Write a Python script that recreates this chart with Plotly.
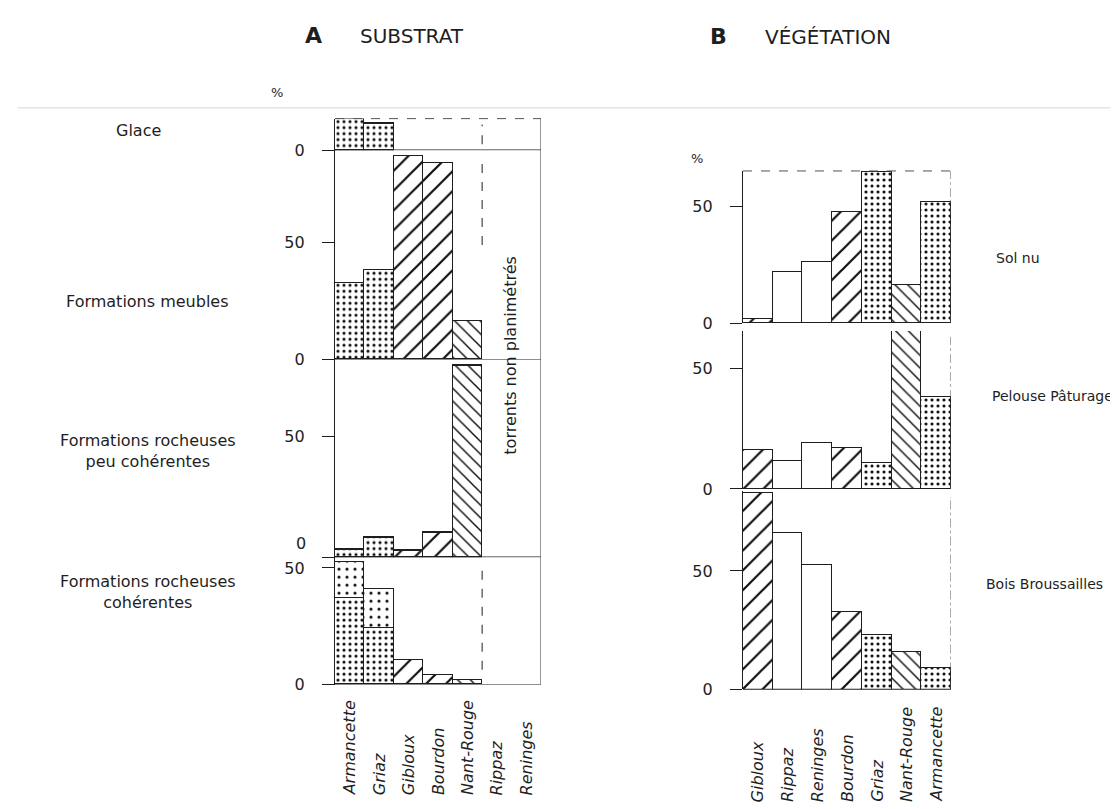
import plotly.graph_objects as go

W, H = 1118, 809

# ---- data ----
subst_sites = ["Armancette", "Griaz", "Gibloux", "Bourdon", "Nant-Rouge", "Rippaz", "Reninges"]
subst_patterns = [".", ".", "/", "/", "\\", "", ""]
glace = [13.4, 11.3, None, None, None, None, None]
meubles = [32.4, 37.9, 86.6, 83.7, 16.5, None, None]
peu_coherentes = [3.2, 8.3, 2.8, 10.3, 79.6, None, None]
coherentes_base = [37.0, 24.0, 10.5, 4.0, 2.0, None, None]
coherentes_top = [15.5, 17.0, None, None, None, None, None]

veg_sites = ["Gibloux", "Rippaz", "Reninges", "Bourdon", "Griaz", "Nant-Rouge", "Armancette"]
veg_patterns = ["/", "", "", "/", ".", "\\", "."]
sol_nu = [1.7, 22.0, 26.0, 47.5, 65.0, 16.5, 52.0]
pelouse = [16.0, 11.5, 19.0, 17.0, 10.7, 65.5, 38.0]
bois = [83.0, 66.0, 52.5, 32.5, 23.0, 16.0, 9.0]

INK = "#1e1e1e"
FONT = "DejaVu Sans"


def px_x(p):
    return p / W


def px_y(p):
    return 1 - p / H


# subplot geometry in pixels: (zero line y, top y, px per %)
panels = {
    "y": (144, 112, 2.38),
    "y2": (356, 144, 2.38),
    "y3": (556, 356, 2.44),
    "y4": (685, 556, 2.36),
    "y5": (319, 165, 2.36),
    "y6": (487, 327, 2.44),
    "y7": (690, 489, 2.40),
}


def pat_sizes(shapes):
    return [6 if s == "." else (9 if s == "\\" else 14) for s in shapes]


def pat_sol(shapes):
    return [0.22 if s == "." else 0.16 for s in shapes]


def bar(x, y, shapes, xa, ya, sizes=None, sol=None):
    return go.Bar(
        x=x, y=y, xaxis=xa, yaxis=ya, showlegend=False,
        marker=dict(
            color="white",
            line=dict(color=INK, width=1.3),
            pattern=dict(shape=shapes, fgcolor="#111", bgcolor="white", fgopacity=1,
                         size=sizes or pat_sizes(shapes),
                         solidity=sol or pat_sol(shapes)),
        ),
    )


fig = go.Figure()
fig.add_trace(bar(subst_sites, glace, subst_patterns, "x", "y"))
fig.add_trace(bar(subst_sites, meubles, subst_patterns, "x", "y2"))
fig.add_trace(bar(subst_sites, peu_coherentes, subst_patterns, "x", "y3"))
fig.add_trace(bar(subst_sites, coherentes_base, subst_patterns, "x", "y4"))
fig.add_trace(bar(subst_sites, coherentes_top, subst_patterns, "x", "y4",
                  sizes=[8] * 7, sol=[0.12] * 7))
fig.add_trace(bar(veg_sites, sol_nu, veg_patterns, "x2", "y5"))
fig.add_trace(bar(veg_sites, pelouse, veg_patterns, "x2", "y6"))
fig.add_trace(bar(veg_sites, bois, veg_patterns, "x2", "y7"))

layout = dict(
    width=W, height=H,
    margin=dict(l=0, r=0, t=0, b=0),
    paper_bgcolor="white", plot_bgcolor="rgba(0,0,0,0)",
    barmode="stack", bargap=0,
    font=dict(family=FONT, color=INK),
    xaxis=dict(domain=[px_x(327), px_x(533)], range=[-0.5, 6.5], visible=False,
               type="category", categoryorder="array", categoryarray=subst_sites, anchor="y4"),
    xaxis2=dict(domain=[px_x(735), px_x(943)], range=[-0.5, 6.5], visible=False,
                type="category", categoryorder="array", categoryarray=veg_sites, anchor="y7"),
)

for name, (zero, top, k) in panels.items():
    key = "yaxis" if name == "y" else "yaxis" + name[1:]
    xa = "x2" if name in ("y5", "y6", "y7") else "x"
    vals = [0] if name == "y" else [0, 50]
    labels = ["", "50"] if name == "y3" else [str(v) for v in vals]
    layout[key] = dict(
        domain=[px_y(zero), px_y(top)],
        range=[0, (zero - top) / k],
        anchor=xa,
        showline=True, linecolor=INK, linewidth=1.2,
        ticks="outside", ticklen=12, tickwidth=1.2, tickcolor=INK,
        tickvals=vals, ticktext=labels,
        tickfont=dict(size=16, family=FONT, color=INK),
        showgrid=False, zeroline=False,
        ticklabelstandoff=14,
    )

fig.update_layout(**layout)

shapes = []
# zero lines across each subplot
for name, (zero, top, k) in panels.items():
    xa = "x2" if name in ("y5", "y6", "y7") else "x"
    shapes.append(dict(type="line", xref=xa, yref=name, x0=-0.5, x1=6.5, y0=0, y1=0,
                       line=dict(color=INK, width=1.3)))

# panel A frame: top, right border, dashed divider
shapes.append(dict(type="line", xref="x", yref="paper", x0=-0.5, x1=6.5,
                   y0=px_y(112), y1=px_y(112), line=dict(color="#555", width=1, dash="dash")))
shapes.append(dict(type="line", xref="x", yref="paper", x0=6.5, x1=6.5,
                   y0=px_y(685), y1=px_y(112), line=dict(color="#444", width=1.1)))
for y0, y1 in [(118, 138), (152, 240), (565, 670)]:
    shapes.append(dict(type="line", xref="x", yref="paper", x0=4.5, x1=4.5,
                       y0=px_y(y1), y1=px_y(y0), line=dict(color="#333", width=1.1, dash="dash")))

# panel B frame
shapes.append(dict(type="line", xref="x2", yref="paper", x0=-0.5, x1=6.5,
                   y0=px_y(165), y1=px_y(165), line=dict(color="#555", width=1, dash="dash")))
for y0, y1 in [(165, 319), (333, 487), (495, 690)]:
    shapes.append(dict(type="line", xref="x2", yref="paper", x0=6.5, x1=6.5,
                       y0=px_y(y1), y1=px_y(y0), line=dict(color="#555", width=1, dash="dashdot")))

# faint scan line across the page
shapes.append(dict(type="line", xref="paper", yref="paper", x0=px_x(10), x1=1,
                   y0=px_y(101), y1=px_y(101), line=dict(color="#e4e4e4", width=1.5)))
fig.update_layout(shapes=shapes)

ann = []


def text(x, y, s, size=15, **kw):
    ann.append(dict(x=px_x(x), y=px_y(y), xref="paper", yref="paper", text=s,
                    xanchor="center", yanchor="middle", showarrow=False,
                    font=dict(size=size, family=FONT, color=INK), **kw))


text(305, 28, "<b>A</b>", size=22)
text(404, 28, "SUBSTRAT", size=20)
text(710, 29, "<b>B</b>", size=22)
text(820, 29, "VÉGÉTATION", size=20)
text(269, 86, "%", size=13)
text(689, 152, "%", size=13)
text(293, 542, "0", size=16)

text(130, 124, "Glace", size=16)
text(139, 297, "Formations meubles", size=16)
text(140, 449, "Formations rocheuses<br>peu cohérentes", size=16)
text(140, 591, "Formations rocheuses<br>cohérentes", size=16)
text(1010, 253, "Sol nu", size=14)
text(1044, 393, "Pelouse Pâturage", size=14)
text(1036, 583, "Bois Broussailles", size=14)

text(503, 352, "torrents non planimétrés", size=16, textangle=-90)

for site in subst_sites:
    ann.append(dict(x=site, xref="x", y=px_y(799), yref="paper", yanchor="bottom",
                    xanchor="center", text="<i>%s</i>" % site, textangle=-90, showarrow=False,
                    font=dict(size=16, family=FONT, color=INK)))
for site in veg_sites:
    ann.append(dict(x=site, xref="x2", y=px_y(806), yref="paper", yanchor="bottom",
                    xanchor="center", text="<i>%s</i>" % site, textangle=-90, showarrow=False,
                    font=dict(size=16, family=FONT, color=INK)))

fig.update_layout(annotations=ann)

fig.write_html("out.html")
